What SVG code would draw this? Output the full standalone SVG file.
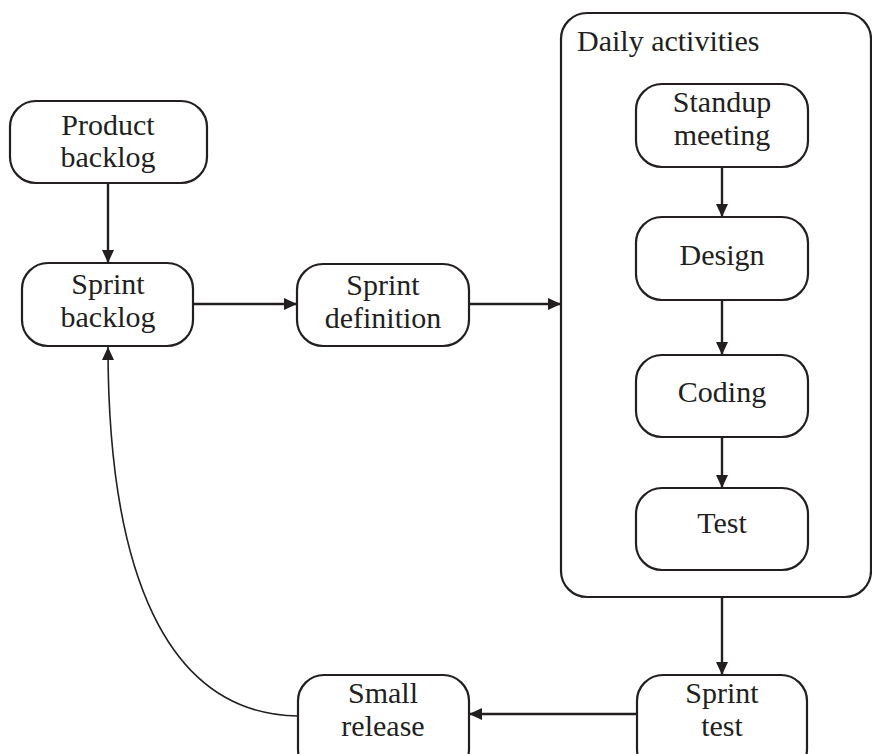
<svg xmlns="http://www.w3.org/2000/svg" width="872" height="754" viewBox="0 0 872 754">
<style>
.box{fill:#fff;stroke:#231f20;stroke-width:2.2}
.t{font-family:"Liberation Serif","DejaVu Serif",serif;font-size:30px;fill:#231f20;text-anchor:middle}
.c{fill:none;stroke:#231f20;stroke-width:2.4}
</style>
<defs>
<marker id="ah" viewBox="0 0 13 12" refX="13" refY="6" markerWidth="13" markerHeight="12" markerUnits="userSpaceOnUse" orient="auto">
<path d="M0,0 L13,6 L0,12 z" fill="#231f20"/>
</marker>
</defs>
<rect width="872" height="754" fill="#fff"/>
<g id="daily">
<rect class="box" x="561" y="13" width="310" height="584" rx="26"/>
<text class="t" x="577" y="51" style="text-anchor:start">Daily activities</text>
</g>
<g id="connectors">
<line class="c" x1="108" y1="184" x2="108" y2="263" marker-end="url(#ah)"/>
<line class="c" x1="193" y1="304" x2="297" y2="304" marker-end="url(#ah)"/>
<line class="c" x1="469" y1="304" x2="561" y2="304" marker-end="url(#ah)"/>
<line class="c" x1="722" y1="167" x2="722" y2="217" marker-end="url(#ah)"/>
<line class="c" x1="722" y1="300" x2="722" y2="355" marker-end="url(#ah)"/>
<line class="c" x1="722" y1="437" x2="722" y2="488" marker-end="url(#ah)"/>
<line class="c" x1="722" y1="597" x2="722" y2="675" marker-end="url(#ah)"/>
<line class="c" x1="637" y1="714" x2="469" y2="714" marker-end="url(#ah)"/>
<path class="c" style="stroke-width:1.6" d="M298,716 C165,714 108,570 108,347" marker-end="url(#ah)"/>
</g>
<g id="product-backlog">
<rect class="box" x="10" y="101" width="197" height="82" rx="26"/>
<text class="t" x="108" y="135">Product</text>
<text class="t" x="108" y="167">backlog</text>
</g>
<g id="sprint-backlog">
<rect class="box" x="22" y="263" width="171" height="83" rx="26"/>
<text class="t" x="108" y="294">Sprint</text>
<text class="t" x="108" y="327">backlog</text>
</g>
<g id="sprint-definition">
<rect class="box" x="297" y="264" width="172" height="82" rx="26"/>
<text class="t" x="383" y="295">Sprint</text>
<text class="t" x="383" y="328">definition</text>
</g>
<g id="standup">
<rect class="box" x="636" y="84" width="172" height="83" rx="26"/>
<text class="t" x="722" y="112">Standup</text>
<text class="t" x="722" y="145">meeting</text>
</g>
<g id="design">
<rect class="box" x="636" y="217" width="172" height="83" rx="26"/>
<text class="t" x="722" y="265">Design</text>
</g>
<g id="coding">
<rect class="box" x="636" y="355" width="172" height="82" rx="26"/>
<text class="t" x="722" y="402">Coding</text>
</g>
<g id="test">
<rect class="box" x="636" y="488" width="172" height="82" rx="26"/>
<text class="t" x="722" y="533">Test</text>
</g>
<g id="sprint-test">
<rect class="box" x="637" y="675" width="170" height="100" rx="26"/>
<text class="t" x="722" y="703">Sprint</text>
<text class="t" x="722" y="736">test</text>
</g>
<g id="small-release">
<rect class="box" x="298" y="675" width="171" height="100" rx="26"/>
<text class="t" x="383" y="703">Small</text>
<text class="t" x="383" y="736">release</text>
</g>
</svg>
